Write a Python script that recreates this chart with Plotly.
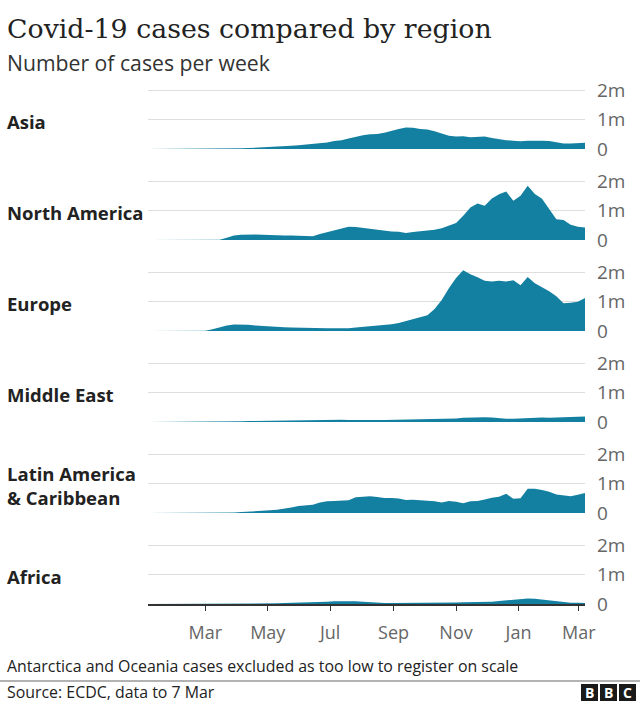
import pandas as pd
import plotly.graph_objects as go

# ---------------- data (weekly cases, millions) ----------------
week_start = "2020-01-05"
n_weeks = 62
dates = pd.date_range(week_start, periods=n_weeks, freq="7D")

regions = ["Asia", "North America", "Europe", "Middle East",
           "Latin America<br>& Caribbean", "Africa"]

asia = [0.0, 0.0, 0.005, 0.01, 0.015, 0.015, 0.01, 0.005, 0.005, 0.008,
        0.01, 0.015, 0.02, 0.025, 0.03, 0.04, 0.05, 0.06, 0.07, 0.09,
        0.11, 0.13, 0.15, 0.17, 0.19, 0.22, 0.27, 0.30, 0.36, 0.42,
        0.47, 0.50, 0.51, 0.55, 0.62, 0.68, 0.73, 0.72, 0.68, 0.66,
        0.60, 0.52, 0.45, 0.42, 0.43, 0.40, 0.41, 0.42, 0.37, 0.33,
        0.30, 0.28, 0.26, 0.28, 0.29, 0.28, 0.27, 0.22, 0.19, 0.19,
        0.21, 0.21]

north_america = [0, 0, 0, 0, 0, 0, 0, 0, 0, 0,
                 0.005, 0.08, 0.15, 0.18, 0.19, 0.185, 0.18, 0.18, 0.17, 0.155,
                 0.15, 0.14, 0.13, 0.13, 0.20, 0.26, 0.33, 0.40, 0.45, 0.44,
                 0.41, 0.37, 0.34, 0.30, 0.29, 0.28, 0.24, 0.27, 0.30, 0.31,
                 0.35, 0.40, 0.48, 0.58, 0.82, 1.10, 1.24, 1.16, 1.41, 1.55,
                 1.64, 1.33, 1.50, 1.84, 1.56, 1.40, 1.05, 0.70, 0.68, 0.52,
                 0.45, 0.42]

europe = [0, 0, 0, 0, 0, 0, 0, 0, 0.005, 0.06,
          0.13, 0.19, 0.22, 0.22, 0.21, 0.19, 0.17, 0.16, 0.15, 0.13,
          0.12, 0.11, 0.10, 0.10, 0.09, 0.09, 0.09, 0.09, 0.09, 0.12,
          0.14, 0.16, 0.18, 0.20, 0.23, 0.27, 0.33, 0.40, 0.47, 0.53,
          0.75, 1.05, 1.45, 1.80, 2.06, 1.92, 1.82, 1.70, 1.68, 1.70,
          1.68, 1.72, 1.55, 1.83, 1.62, 1.48, 1.35, 1.18, 0.94, 0.96,
          0.99, 1.12]

middle_east = [0, 0, 0, 0, 0, 0, 0, 0, 0, 0.005,
               0.01, 0.015, 0.02, 0.025, 0.03, 0.035, 0.04, 0.045, 0.05, 0.055,
               0.06, 0.07, 0.075, 0.08, 0.08, 0.08, 0.08, 0.075, 0.07, 0.065,
               0.065, 0.065, 0.065, 0.07, 0.075, 0.08, 0.09, 0.095, 0.10, 0.095,
               0.09, 0.09, 0.10, 0.12, 0.14, 0.155, 0.16, 0.16, 0.155, 0.13,
               0.11, 0.11, 0.12, 0.14, 0.16, 0.15, 0.14, 0.15, 0.16, 0.17,
               0.18, 0.19]

latin_america = [0, 0, 0, 0, 0, 0, 0, 0, 0, 0,
                 0.005, 0.01, 0.02, 0.03, 0.04, 0.055, 0.07, 0.09, 0.11, 0.14,
                 0.19, 0.24, 0.27, 0.28, 0.36, 0.40, 0.41, 0.42, 0.43, 0.53,
                 0.55, 0.57, 0.54, 0.51, 0.51, 0.49, 0.44, 0.45, 0.43, 0.42,
                 0.40, 0.36, 0.41, 0.38, 0.33, 0.40, 0.41, 0.46, 0.52, 0.55,
                 0.65, 0.48, 0.50, 0.82, 0.82, 0.78, 0.72, 0.63, 0.60, 0.57,
                 0.62, 0.68]

africa = [0, 0, 0, 0, 0, 0, 0, 0, 0, 0,
          0, 0.002, 0.004, 0.006, 0.008, 0.01, 0.015, 0.02, 0.025, 0.03,
          0.035, 0.04, 0.05, 0.06, 0.07, 0.08, 0.09, 0.10, 0.10, 0.095,
          0.08, 0.06, 0.045, 0.035, 0.03, 0.03, 0.03, 0.03, 0.03, 0.035,
          0.04, 0.045, 0.05, 0.055, 0.06, 0.06, 0.065, 0.07, 0.08, 0.10,
          0.12, 0.13, 0.16, 0.19, 0.18, 0.15, 0.11, 0.08, 0.06, 0.045,
          0.04, 0.035]

series = [asia, north_america, europe, middle_east, latin_america, africa]

x_tick_dates = ["2020-03-01", "2020-05-01", "2020-07-01", "2020-09-01",
                "2020-11-01", "2021-01-01", "2021-03-01"]
x_tick_labels = ["Mar", "May", "Jul", "Sep", "Nov", "Jan", "Mar"]
y_tick_vals = [0, 1e6, 2e6]
y_tick_labels = ["0", "1m", "2m"]

# ---------------- layout constants ----------------
W, H = 640, 704
FILL = "#1380A1"
SANS = "Open Sans, Lato, sans-serif"
zero_px = [149, 240, 331, 422, 513, 604]
panel_px = 59 * 1.1   # px for range 0..2.2m
Y_MAX = 2.2e6

fig = go.Figure()
for i, (name, vals) in enumerate(zip(regions, series)):
    yname = "y" if i == 0 else f"y{i+1}"
    fig.add_trace(go.Scatter(
        x=dates, y=[v * 1e6 for v in vals],
        mode="lines", line=dict(width=0, color=FILL),
        fill="tozeroy", fillcolor=FILL,
        xaxis="x", yaxis=yname, showlegend=False,
        hoverinfo="skip"))

layout = dict(
    width=W, height=H, autosize=False,
    margin=dict(l=0, r=0, t=0, b=0, pad=0, autoexpand=False),
    paper_bgcolor="white", plot_bgcolor="white",
    showlegend=False,
    xaxis=dict(
        domain=[148 / W, 585 / W],
        anchor="y6", automargin=False,
        type="date",
        range=[dates[0], dates[-1]],
        tickvals=x_tick_dates, ticktext=x_tick_labels,
        showgrid=False, zeroline=False,
        showline=True, linecolor="#333333", linewidth=2,
        ticks="outside", ticklen=5, tickcolor="#333333", tickwidth=1,
        tickfont=dict(family=SANS, size=18, color="#666666"),
        ticklabelstandoff=6,
    ),
)

for i in range(6):
    key = "yaxis" if i == 0 else f"yaxis{i+1}"
    z = zero_px[i]
    layout[key] = dict(
        domain=[1 - z / H, 1 - (z - panel_px) / H],
        anchor="x", side="right", automargin=False,
        range=[0, Y_MAX],
        tickvals=y_tick_vals, ticktext=y_tick_labels,
        showgrid=True, gridcolor="#dddddd", gridwidth=1,
        zeroline=False, showline=False, ticks="",
        tickfont=dict(family=SANS, size=19, color="#666666"),
        ticklabelstandoff=11,
    )

fig.update_layout(**layout)

annotations = []
for i, name in enumerate(regions):
    yref = "y" if i == 0 else f"y{i+1}"
    annotations.append(dict(
        text=f"<b>{name}</b>", xref="paper", yref=yref,
        x=5 / W, y=1e6, xanchor="left", yanchor="middle", align="left",
        showarrow=False, yshift=-2,
        font=dict(family=SANS, size=18.5, color="#222222")))

annotations += [
    dict(text="Covid-19 cases compared by region", xref="paper", yref="paper",
         x=5 / W, y=1 - 28 / H, xanchor="left", yanchor="middle",
         showarrow=False,
         font=dict(family="DejaVu Serif, serif", size=26.8, color="#222222")),
    dict(text="Number of cases per week", xref="paper", yref="paper",
         x=5 / W, y=1 - 63 / H, xanchor="left", yanchor="middle",
         showarrow=False,
         font=dict(family=SANS, size=21.2, color="#333333")),
    dict(text="Antarctica and Oceania cases excluded as too low to register on scale",
         xref="paper", yref="paper",
         x=5 / W, y=1 - 666 / H, xanchor="left", yanchor="middle",
         showarrow=False,
         font=dict(family=SANS, size=15.9, color="#222222")),
    dict(text="Source: ECDC, data to 7 Mar",
         xref="paper", yref="paper",
         x=5 / W, y=1 - 692 / H, xanchor="left", yanchor="middle",
         showarrow=False,
         font=dict(family=SANS, size=15.9, color="#222222")),
]

shapes = [dict(type="line", xref="paper", yref="paper",
               x0=0, x1=1, y0=1 - 681 / H, y1=1 - 681 / H,
               line=dict(color="#999999", width=1.5))]

# BBC logo blocks
for j, letter in enumerate(["B", "B", "C"]):
    x0 = 581 + j * 19
    shapes.append(dict(type="rect", xref="paper", yref="paper",
                       x0=x0 / W, x1=(x0 + 17) / W,
                       y0=1 - 701 / H, y1=1 - 684 / H,
                       fillcolor="#1a1a1a", line=dict(width=0)))
    annotations.append(dict(text=f"<b>{letter}</b>", xref="paper", yref="paper",
                            x=(x0 + 8.5) / W, y=1 - 692.5 / H,
                            xanchor="center", yanchor="middle", showarrow=False,
                            font=dict(family="Open Sans, sans-serif", size=14,
                                      color="white")))

fig.update_layout(annotations=annotations, shapes=shapes)
fig.write_html("out.html")
